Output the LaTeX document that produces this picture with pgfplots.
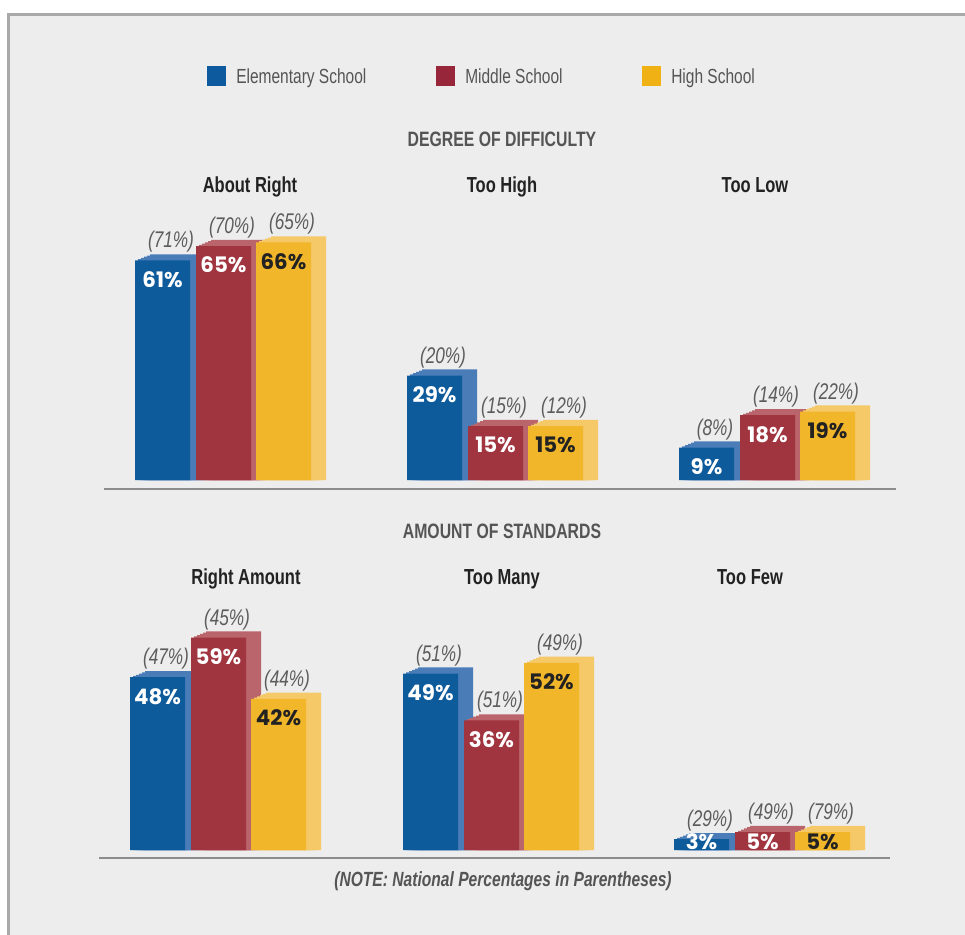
\documentclass[border=0pt]{standalone}
\usepackage{pgfplots}
\pgfplotsset{compat=1.18}
\usepackage{pgfplotstable}
\usepackage{fontspec}
\setmainfont{Liberation Sans}
\newfontfamily\cond{Liberation Sans}[FakeStretch=0.76]
\newfontfamily\valfont{Poppins}

\definecolor{bgc}{HTML}{EDEDED}
\definecolor{bordc}{HTML}{A9A9A9}
\definecolor{basec}{HTML}{8C8C8C}
\definecolor{eF}{HTML}{0E5B9C}
\definecolor{eS}{HTML}{4A7DB8}
\definecolor{mF}{HTML}{A0343F}
\definecolor{mS}{HTML}{BA646B}
\definecolor{hF}{HTML}{F2B62B}
\definecolor{hS}{HTML}{F5C868}
\definecolor{eL}{HTML}{0D5A9E}
\definecolor{mL}{HTML}{98263A}
\definecolor{hL}{HTML}{F0B114}
\definecolor{hdc}{HTML}{555555}
\definecolor{ttc}{HTML}{222222}
\definecolor{natc}{HTML}{5C5C5C}

% bx = left edge (px) of the Elementary bar in each group
\pgfplotstableread{
bx  es  ms  hs  esn msn hsn
135 61  65  66  71  70  65
407 29  15  15  20  15  12
679 9   18  19  8   14  22
}\toprow
\pgfplotstableread{
bx  es  ms  hs  esn msn hsn
130 48  59  42  47  45  44
403 49  36  52  51  51  49
674 3   5   5   29  49  79
}\botrow

\pgfplotsset{
  cubeaxis/.style={scale only axis, width=723.75pt, height=189pt,
    xmin=0, xmax=965, ymin=0, ymax=70, hide axis, clip=false, anchor=south west},
  cubeface/.style={ybar, bar width=55, bar shift=0pt, draw=none, fill=#1, mark=none},
  lab/.style={only marks, mark=*, mark size=0pt, mark options={draw=none,fill=none},
    point meta=explicit, nodes near coords={#1},
    /pgf/number format/assume math mode=true,
    nodes near coords align={anchor=center}},
}
% back faces: stepped copies give the slanted top and the side of each block
\newcommand\bars[5]{%
  \addplot[cubeface=#5] table[x expr=\thisrow{bx}+#3+42.5, y expr=\thisrow{#2}+1.7] {#1};
  \addplot[cubeface=#5] table[x expr=\thisrow{bx}+#3+39.5, y expr=\thisrow{#2}+1.36] {#1};
  \addplot[cubeface=#5] table[x expr=\thisrow{bx}+#3+36.5, y expr=\thisrow{#2}+1.02] {#1};
  \addplot[cubeface=#5] table[x expr=\thisrow{bx}+#3+33.5, y expr=\thisrow{#2}+0.68] {#1};
  \addplot[cubeface=#5] table[x expr=\thisrow{bx}+#3+30.5, y expr=\thisrow{#2}+0.34] {#1};
  \addplot[cubeface=#4] table[x expr=\thisrow{bx}+#3+27.5, y=#2] {#1};
}
\newcommand\labels[5]{%
  \addplot[lab={\pgfmathprintnumber{\pgfplotspointmeta}\%},
    every node near coord/.append style={inner sep=0pt, text=#5, font=\valfont\bfseries\fontsize{16}{16}\selectfont}]
    table[x expr=\thisrow{bx}+#4+27.5, y expr={max(\thisrow{#2}-5.3,2.4)}, meta=#2] {#1};
  \addplot[lab={(\pgfmathprintnumber{\pgfplotspointmeta}\%)},
    every node near coord/.append style={inner sep=0pt, text=natc, font=\cond\itshape\fontsize{17}{17}\selectfont}]
    table[x expr=\thisrow{bx}+#4+36, y expr=\thisrow{#2}+5.1, meta=#3] {#1};
}

\begin{document}
\begin{tikzpicture}
\begin{scope}[x=0.75pt,y=-0.75pt]
\path[use as bounding box] (0,0) rectangle (965,935);
\fill[white] (0,0) rectangle (965,935);
\fill[bgc] (8,14) rectangle (965,935);
\draw[bordc, line width=2.25pt] (8.5,936) -- (8.5,14.5) -- (966,14.5);

% legend
\fill[eL] (207,66) rectangle (226,86);
\fill[mL] (436,66) rectangle (455,86);
\fill[hL] (642,66) rectangle (661,86);
\begin{scope}[every node/.style={anchor=base west, inner sep=0pt, text=hdc, font=\cond\fontsize{15.3}{15.3}\selectfont}]
\node at (236,83) {Elementary School};
\node at (465,83) {Middle School};
\node at (671,83) {High School};
\end{scope}

% headers
\begin{scope}[every node/.style={anchor=base, inner sep=0pt}]
\node[text=hdc, font=\cond\bfseries\fontsize{15.6}{15.6}\selectfont] at (502,146) {DEGREE OF DIFFICULTY};
\node[text=hdc, font=\cond\bfseries\fontsize{15.6}{15.6}\selectfont] at (502,538) {AMOUNT OF STANDARDS};
\node[text=ttc, font=\cond\bfseries\fontsize{16.3}{16.3}\selectfont] at (250,192) {About Right};
\node[text=ttc, font=\cond\bfseries\fontsize{16.3}{16.3}\selectfont] at (502,192) {Too High};
\node[text=ttc, font=\cond\bfseries\fontsize{16.3}{16.3}\selectfont] at (755,192) {Too Low};
\node[text=ttc, font=\cond\bfseries\fontsize{16.3}{16.3}\selectfont] at (246,584) {Right Amount};
\node[text=ttc, font=\cond\bfseries\fontsize{16.3}{16.3}\selectfont] at (502,584) {Too Many};
\node[text=ttc, font=\cond\bfseries\fontsize{16.3}{16.3}\selectfont] at (750,584) {Too Few};
\node[text=hdc, font=\cond\bfseries\itshape\fontsize{15.4}{15.4}\selectfont] at (503,886) {(NOTE: National Percentages in Parentheses)};
\end{scope}

\draw[basec, line width=1.5pt] (104,489) -- (896,489);
\draw[basec, line width=1.5pt] (99,858) -- (890,858);
\end{scope}

\begin{axis}[cubeaxis, at={(0pt,-360pt)}]
  \bars{\toprow}{es}{0}{eF}{eS}
  \bars{\toprow}{ms}{61}{mF}{mS}
  \bars{\toprow}{hs}{121}{hF}{hS}
  \labels{\toprow}{es}{esn}{0}{white}
  \labels{\toprow}{ms}{msn}{61}{white}
  \labels{\toprow}{hs}{hsn}{121}{ttc}
\end{axis}

\begin{axis}[cubeaxis, at={(0pt,-637.5pt)}]
  \bars{\botrow}{es}{0}{eF}{eS}
  \bars{\botrow}{ms}{61}{mF}{mS}
  \bars{\botrow}{hs}{121}{hF}{hS}
  \labels{\botrow}{es}{esn}{0}{white}
  \labels{\botrow}{ms}{msn}{61}{white}
  \labels{\botrow}{hs}{hsn}{121}{ttc}
\end{axis}
\end{tikzpicture}
\end{document}
